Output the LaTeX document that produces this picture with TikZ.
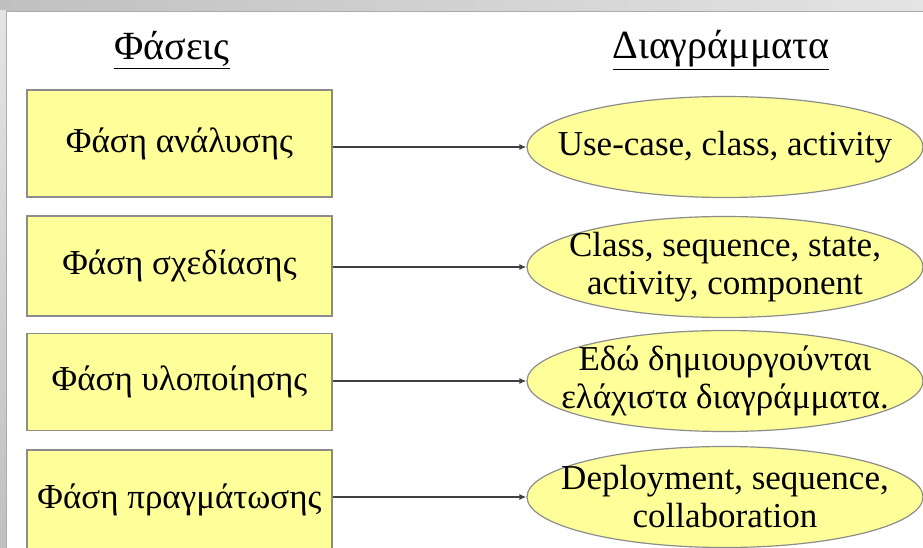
\documentclass[tikz,border=0pt]{standalone}
\usepackage{fontspec}
\setmainfont{Liberation Serif}
\usetikzlibrary{shapes.geometric,arrows.meta}
\definecolor{paleyellow}{HTML}{FFFF99}
\definecolor{edgegray}{HTML}{8C8C8C}
\definecolor{framelight}{HTML}{E4E4E4}
\definecolor{framedark}{HTML}{C0C0C0}
\definecolor{frameline}{HTML}{ABABAB}
\tikzset{
  phase/.style={draw=edgegray, line width=1.2pt, fill=paleyellow, minimum width=305pt,
    inner sep=0pt, font=\fontsize{35}{40}\selectfont},
  diagram/.style={ellipse, draw=edgegray, line width=1.2pt, fill=paleyellow, minimum width=396pt,
    minimum height=101pt, inner sep=0pt},
  diagramtext/.style={align=center, inner sep=0pt, font=\fontsize{35}{38}\selectfont},
  heading/.style={font=\fontsize{40}{44}\selectfont},
  link/.style={draw=black!75, line width=1.3pt, -{Latex[length=7pt,width=6pt]}}
}
\begin{document}
\begin{tikzpicture}[x=1pt,y=-1pt]
  \useasboundingbox (0,0) rectangle (923,548);
  % window frame with soft shadow along the top and left
  \shade[left color=framedark, right color=framelight] (0,0) rectangle (923,11);
  \shade[top color=framelight, bottom color=framedark] (0,11) rectangle (6,548);
  \fill[white] (6,11) rectangle (923,548);
  \draw[frameline, line width=1pt] (6.5,548) -- (6.5,11.5) -- (923,11.5);

  % column headings
  \node[heading] (hphase) at (172,50) {\underline{Φάσεις}};
  \node[heading] (hdiag) at (721,50) {\underline{Διαγράμματα}};

  % phases
  \node[phase, minimum height=107pt] (p1) at (179.5,143.5) {Φάση ανάλυσης};
  \node[phase, minimum height=100pt] (p2) at (179.5,266) {Φάση σχεδίασης};
  \node[phase, minimum height=97pt] (p3) at (179.5,382) {Φάση υλοποίησης};
  \node[phase, minimum height=100pt] (p4) at (179.5,500) {Φάση πραγμάτωσης};

  % diagrams: fixed-size ellipses, text laid on top (it may overrun the outline)
  \node[diagram] (d1) at (725,147) {};
  \node[diagramtext] (t1) at (d1.center) {Use-case, class, activity};
  \node[diagram] (d2) at (725,267) {};
  \node[diagramtext] (t2) at (d2.center) {Class, sequence, state,\\ activity, component};
  \node[diagram] (d3) at (725,381) {};
  \node[diagramtext] (t3) at (d3.center) {Εδώ δημιουργούνται\\ ελάχιστα διαγράμματα.};
  \node[diagram] (d4) at (725,497) {};
  \node[diagramtext] (t4) at (d4.center) {Deployment, sequence,\\ collaboration};

  % connectors
  \draw[link] (p1.east |- d1.west) -- (d1.west);
  \draw[link] (p2.east |- d2.west) -- (d2.west);
  \draw[link] (p3.east |- d3.west) -- (d3.west);
  \draw[link] (p4.east |- d4.west) -- (d4.west);
\end{tikzpicture}
\end{document}
